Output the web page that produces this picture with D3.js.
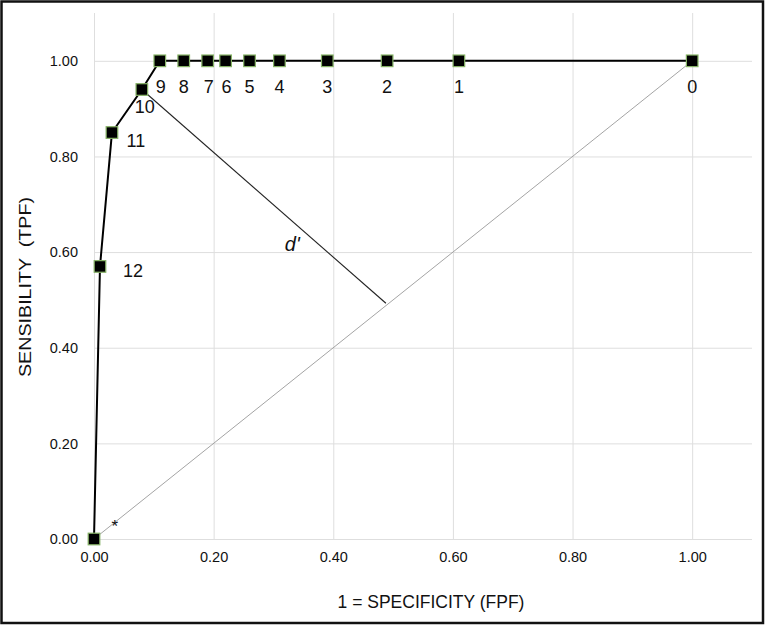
<!DOCTYPE html>
<html>
<head>
<meta charset="utf-8">
<script src="https://cdn.jsdelivr.net/npm/d3@7"></script>
<style>
  body { margin: 0; background: #fff; }
  svg text { font-family: "Liberation Sans", Arial, sans-serif; fill: #111; }
</style>
</head>
<body>
<div id="roc"></div>
<script>
// ROC points, cut-off 0 .. 12 then the origin
var fpf = [1.00, 0.61, 0.49, 0.39, 0.31, 0.26, 0.22, 0.19, 0.15, 0.11, 0.08, 0.03, 0.01, 0.00];
var tpf = [1.00, 1.00, 1.00, 1.00, 1.00, 1.00, 1.00, 1.00, 1.00, 1.00, 0.94, 0.85, 0.57, 0.00];
var cutLabels = ["0", "1", "2", "3", "4", "5", "6", "7", "8", "9", "10", "11", "12", ""];
var tickValues = [0, 0.2, 0.4, 0.6, 0.8, 1.0];
// foot of the d' segment on the chance diagonal
var dPrimeFoot = [0.488, 0.493];

// label offsets in px (layout only)
var labelOffset = [[0,32],[0,32],[0,32],[0,32],[0,32],[0,32],[1,32],[1,32],[0,32],[1,32],[3,23],[24,14],[33,11],[0,0]];

var W = 765, H = 625;
var margin = {top: 13, right: 13, bottom: 86, left: 94};

var svg = d3.select("#roc")
  .append("svg")
    .attr("width", W)
    .attr("height", H);

var x = d3.scaleLinear().domain([0, 1.1]).range([margin.left, W - margin.right]);
var y = d3.scaleLinear().domain([0, 1.1]).range([H - margin.bottom, margin.top]);

// frame
svg.append("rect")
  .attr("x", 1.5).attr("y", 1.5)
  .attr("width", W - 3.5).attr("height", H - 3.5)
  .attr("fill", "none")
  .attr("stroke", "#111")
  .attr("stroke-width", 2.5);

// gridlines
var gx = svg.append("g")
  .attr("transform", "translate(0," + y(0) + ")")
  .call(d3.axisBottom(x).tickValues(tickValues).tickSize(-(y(0) - margin.top)).tickFormat(""));
var gy = svg.append("g")
  .attr("transform", "translate(" + x(0) + ",0)")
  .call(d3.axisLeft(y).tickValues(tickValues).tickSize(-(W - margin.right - x(0))).tickFormat(""));
[gx, gy].forEach(function(g) {
  g.select(".domain").remove();
  g.selectAll("line").attr("stroke", "#dedede").attr("stroke-width", 1);
});

// tick labels
var ax = svg.append("g")
  .attr("transform", "translate(0," + (y(0) + 10) + ")")
  .call(d3.axisBottom(x).tickValues(tickValues).tickSize(0).tickFormat(d3.format(".2f")));
var ay = svg.append("g")
  .attr("transform", "translate(" + (x(0) - 13) + ",0)")
  .call(d3.axisLeft(y).tickValues(tickValues).tickSize(0).tickFormat(d3.format(".2f")));
[ax, ay].forEach(function(g) {
  g.select(".domain").remove();
  g.selectAll("text")
    .style("font-family", "'Liberation Sans', Arial, sans-serif")
    .style("font-size", "14.5px")
    .attr("fill", "#111");
});

// chance diagonal
svg.append("line")
  .attr("x1", x(0)).attr("y1", y(0))
  .attr("x2", x(1)).attr("y2", y(1))
  .attr("stroke", "#9a9a9a")
  .attr("stroke-width", 0.9);

// d' segment from cut-off 10
svg.append("line")
  .attr("x1", x(fpf[10])).attr("y1", y(tpf[10]))
  .attr("x2", x(dPrimeFoot[0])).attr("y2", y(dPrimeFoot[1]))
  .attr("stroke", "#222")
  .attr("stroke-width", 1.1);

svg.append("text")
  .attr("x", x(0.319)).attr("y", y(0.603))
  .style("font-size", "20px")
  .style("font-style", "italic")
  .text("d'");

svg.append("text")
  .attr("x", x(0.035)).attr("y", y(0.033) + 9)
  .attr("text-anchor", "middle")
  .style("font-size", "17px")
  .text("*");

var points = fpf.map(function(d, i) { return {fpf: d, tpf: tpf[i], label: cutLabels[i], i: i}; });

// ROC curve
svg.append("path")
  .datum(points)
  .attr("fill", "none")
  .attr("stroke", "#000")
  .attr("stroke-width", 2)
  .attr("d", d3.line()
    .x(function(d) { return x(d.fpf); })
    .y(function(d) { return y(d.tpf); }));

// markers
svg.selectAll(".pt")
  .data(points)
  .enter().append("rect")
    .attr("class", "pt")
    .attr("x", function(d) { return x(d.fpf) - 5.8; })
    .attr("y", function(d) { return y(d.tpf) - 5.8; })
    .attr("width", 11.6)
    .attr("height", 11.6)
    .attr("fill", "#000")
    .attr("stroke", "#86b266")
    .attr("stroke-width", 1.2);

// cut-off labels
svg.selectAll(".lbl")
  .data(points)
  .enter().append("text")
    .attr("class", "lbl")
    .attr("x", function(d) { return x(d.fpf) + labelOffset[d.i][0]; })
    .attr("y", function(d) { return y(d.tpf) + labelOffset[d.i][1]; })
    .attr("text-anchor", "middle")
    .style("font-size", "18px")
    .text(function(d) { return d.label; });

// axis titles
svg.append("text")
  .attr("x", 431).attr("y", 608)
  .attr("text-anchor", "middle")
  .style("font-size", "17.5px")
  .text("1 = SPECIFICITY (FPF)");

svg.append("text")
  .attr("transform", "translate(31,287) rotate(-90)")
  .attr("text-anchor", "middle")
  .attr("xml:space", "preserve")
  .attr("textLength", 180)
  .attr("lengthAdjust", "spacingAndGlyphs")
  .style("font-size", "17px")
  .style("white-space", "pre")
  .text("SENSIBILITY  (TPF)");
</script>
</body>
</html>
